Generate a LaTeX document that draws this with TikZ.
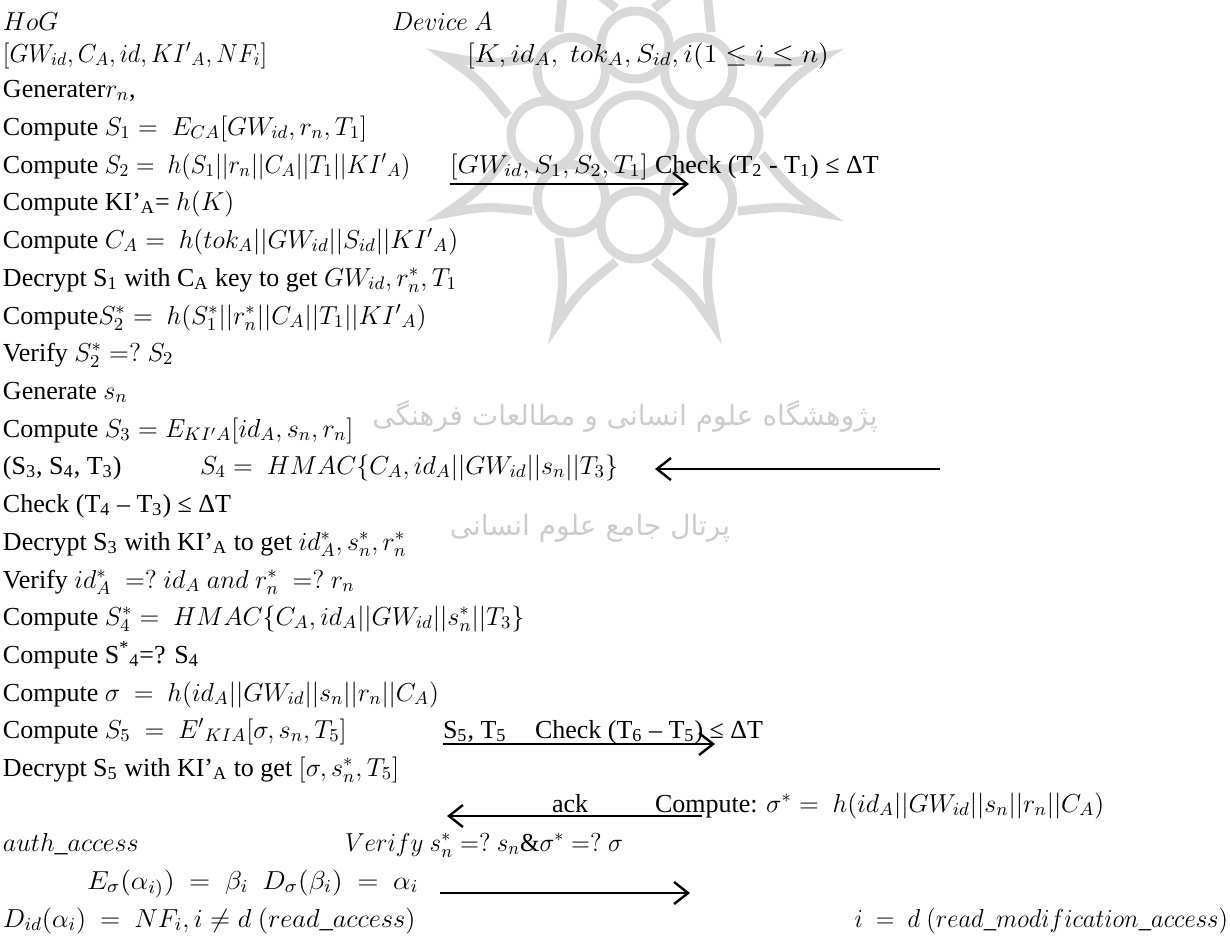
\RequirePackage{fix-cm}
\documentclass[tikz,border=0pt]{standalone}
\usepackage{fontspec}
\usepackage{graphicx}
\setmainfont{Liberation Serif}
\newfontfamily\fa[Script=Arabic]{DejaVu Sans}
\TeXXeTstate=1
\usetikzlibrary{arrows.meta}
\newcommand{\M}[2][1]{\scalebox{#1}[1]{$#2$}}
\begin{document}
\begin{tikzpicture}[x=0.5pt,y=-0.5pt,
  t/.style={anchor=base west, inner sep=0pt, outer sep=0pt, font=\fontsize{13}{16}\selectfont},
  te/.style={anchor=base east, inner sep=0pt, outer sep=0pt, font=\fontsize{13}{16}\selectfont},
  wm/.style={inner sep=0pt, text=black!20, font=\fa\fontsize{14}{17}\selectfont},
  logo/.style={draw=black!15, line width=4.5pt},
  msg/.style={line width=1.2pt, -{Straight Barb[length=7pt,width=11pt,line width=1.2pt]}}]
\useasboundingbox (0,0) rectangle (1230,938);
% faint watermark (logo and Persian text)
\begin{scope}[shift={(635,135)}, logo]
  \draw (0,0) circle (40);
  \foreach \a in {0,45,...,315} \draw (\a:90) circle (34);
  \foreach \a in {22.5,67.5,...,337.5}
    \draw ({\a-14}:128) .. controls ({\a-3}:165) .. (\a:205) .. controls ({\a+3}:165) .. ({\a+14}:128);
\end{scope}
\node[wm] (wm1) at (625,416) {\beginR پژوهشگاه علوم انسانی و مطالعات فرهنگی\endR};
\node[wm] (wm2) at (590,528) {\beginR پرتال جامع علوم انسانی\endR};
% row 1
\node[t] (hog) at (3,30) {\M{HoG}};
\node[t] (dev) at (392,30) {\M[0.97]{Device\ A}};
% row 2
\node[t] (r2a) at (3,62) {\M[0.94]{[GW_{id}, C_A, id, KI'{}_A, NF_i]}};
\node[t] (r2b) at (467,62) {\M[1.08]{[K, id_A,\ tok_A, S_{id}, i(1 \le i \le n)}};
% row 3
\node[t] (r3) at (3,97) {Generater\M{r_n},};
% row 4
\node[t] (r4) at (3,135) {Compute \M{S_1 =\ E_{CA}[GW_{id}, r_n, T_1]}};
% row 5
\node[t] (r5) at (3,173) {Compute \M[0.94]{S_2 =\ h(S_1||r_n||C_A||T_1||KI'{}_A)}};
\node[t] (m1) at (450,173) {\M[1.06]{[GW_{id}, S_1, S_2, T_1]}};
\node[t] (c1) at (655,173) {Check (T\textsubscript{2} - T\textsubscript{1}) ≤ ΔT};
% row 6-12
\node[t] (r6) at (3,210) {Compute KI’\textsubscript{A}= \M{h(K)}};
\node[t] (r7) at (3,248) {Compute \M{C_A =\ h(tok_A||GW_{id}||S_{id}||KI'{}_A)}};
\node[t] (r8) at (3,286) {Decrypt S\textsubscript{1} with C\textsubscript{A} key to get \M{GW_{id}, r_n^*, T_1}};
\node[t] (r9) at (3,324) {Compute\M{S_2^* =\ h(S_1^*||r_n^*||C_A||T_1||KI'{}_A)}};
\node[t] (r10) at (3,361) {Verify \M{S_2^* =?\ S_2}};
\node[t] (r11) at (3,399) {Generate \M{s_n}};
\node[t] (r12) at (3,437) {Compute \M{S_3 = E_{KI'A}[id_A, s_n, r_n]}};
% row 13
\node[t] (r13) at (3,474) {(S\textsubscript{3}, S\textsubscript{4}, T\textsubscript{3})};
\node[t] (r13b) at (200,474) {\M{S_4 =\ HMAC\{C_A, id_A||GW_{id}||s_n||T_3\}}};
% rows 14-21
\node[t] (r14) at (3,512) {Check (T\textsubscript{4} – T\textsubscript{3}) ≤ ΔT};
\node[t] (r15) at (3,550) {Decrypt S\textsubscript{3} with KI’\textsubscript{A} to get \M{id_A^*, s_n^*, r_n^*}};
\node[t] (r16) at (3,588) {Verify \M{id_A^*\ =?\ id_A\ and\ r_n^*\ =?\ r_n}};
\node[t] (r17) at (3,625) {Compute \M{S_4^* =\ HMAC\{C_A, id_A||GW_{id}||s_n^*||T_3\}}};
\node[t] (r18) at (3,663) {Compute S\textsuperscript{*}\textsubscript{4}=? S\textsubscript{4}};
\node[t] (r19) at (3,701) {Compute \M{\sigma\ =\ h(id_A||GW_{id}||s_n||r_n||C_A)}};
\node[t] (r20) at (3,738) {Compute \M{S_5\ =\ E'{}_{KIA}[\sigma, s_n, T_5]}};
\node[t] (m3) at (443,738) {S\textsubscript{5}, T\textsubscript{5}};
\node[t] (c3) at (535,738) {Check (T\textsubscript{6} – T\textsubscript{5}) ≤ ΔT};
\node[t] (r21) at (3,776) {Decrypt S\textsubscript{5} with KI’\textsubscript{A} to get \M{[\sigma, s_n^*, T_5]}};
% row 22
\node[t] (ack) at (552,812) {ack};
\node[t] (r22) at (655,812) {Compute: \M{\sigma^* =\ h(id_A||GW_{id}||s_n||r_n||C_A)}};
% row 23
\node[t] (r23) at (3,851) {\M{auth\_access}};
\node[t] (r23b) at (345,851) {\M[0.96]{Verify\ s_n^* =?\ s_n\&\sigma^* =?\ \sigma}};
% row 24
\node[t] (r24) at (87,889) {\M[1.07]{E_\sigma(\alpha_{i)})\ =\ \beta_i\ \ D_\sigma(\beta_i)\ =\ \alpha_i}};
% row 25
\node[t] (r25) at (3,927) {\M[1.02]{D_{id}(\alpha_i)\ =\ NF_i, i \neq d\ (read\_access)}};
\node[te] (r25b) at (1228,927) {\M[0.95]{i\ =\ d\ (read\_modification\_access)}};
% arrows
\coordinate (a1s) at (450,184); \coordinate (a1e) at (689,184);
\coordinate (a2s) at (940,469); \coordinate (a2e) at (655,469);
\coordinate (a3s) at (443,744); \coordinate (a3e) at (715,744);
\coordinate (a4s) at (702,816); \coordinate (a4e) at (447,816);
\coordinate (a5s) at (440,893); \coordinate (a5e) at (690,893);
\draw[msg] (a1s) -- (a1e);
\draw[msg] (a2s) -- (a2e);
\draw[msg] (a3s) -- (a3e);
\draw[msg] (a4s) -- (a4e);
\draw[msg] (a5s) -- (a5e);
\end{tikzpicture}
\end{document}
